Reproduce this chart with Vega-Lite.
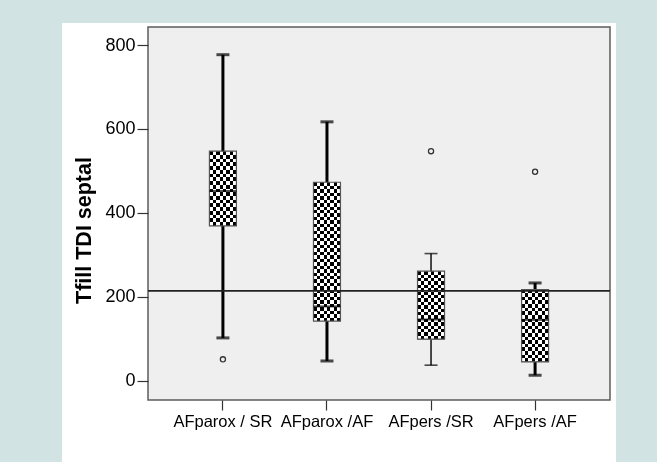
{
  "$schema": "https://vega.github.io/schema/vega-lite/v6.json",
  "width": 462,
  "height": 373,
  "autosize": {"type": "none"},
  "padding": {"left": 148, "top": 27, "right": 47, "bottom": 62},
  "background": "#d1e3e3",
  "config": {
    "font": "Liberation Sans",
    "view": {"stroke": null, "fill": null},
    "axis": {"grid": false, "domain": false, "labelFontSize": 16.5, "labelColor": "#000", "tickColor": "#333", "tickWidth": 1.2, "labelFont": "Liberation Sans", "titleFont": "Liberation Sans"}
  },
  "datasets": {
    "boxes": [
      {"group": "AFparox / SR", "lower": 102, "q1": 369, "median": 452, "q3": 547, "upper": 777},
      {"group": "AFparox /AF", "lower": 47, "q1": 142, "median": 177, "q3": 473, "upper": 617},
      {"group": "AFpers /SR", "lower": 37, "q1": 99, "median": 146, "q3": 261, "upper": 303},
      {"group": "AFpers /AF", "lower": 13, "q1": 45, "median": 145, "q3": 217, "upper": 233}
    ],
    "outliers": [
      {"group": "AFparox / SR", "value": 51},
      {"group": "AFpers /SR", "value": 547},
      {"group": "AFpers /AF", "value": 498}
    ],
    "ref": [{"value": 214}]
  },
  "encoding": {
    "x": {
      "field": "group", "type": "nominal",
      "sort": ["AFparox / SR", "AFparox /AF", "AFpers /SR", "AFpers /AF"],
      "scale": {"paddingInner": 0, "paddingOuter": 0.22},
      "axis": {"title": null, "labelAngle": 0, "tickSize": 10, "labelPadding": 3, "zindex": 1}
    }
  },
  "layer": [
    {
      "data": {"values": [{}]},
      "mark": {"type": "rect", "fill": "#ffffff"},
      "encoding": {"x": {"value": -86}, "x2": {"value": 468}, "y": {"value": -4}, "y2": {"value": 435}}
    },
    {
      "data": {"values": [{}]},
      "mark": {"type": "rect", "fill": "#efefef", "stroke": "#5c5c5c", "strokeWidth": 1.5},
      "encoding": {"x": {"value": 0}, "x2": {"value": "width"}, "y": {"value": 0}, "y2": {"value": "height"}}
    },
    {
      "data": {"name": "boxes"},
      "mark": {"type": "rule", "color": "#000"},
      "encoding": {
        "y": {
          "field": "lower", "type": "quantitative",
          "scale": {"domain": [-46, 843], "nice": false, "zero": false},
          "axis": {"values": [0, 200, 400, 600, 800], "tickSize": 11, "labelPadding": 2, "labelFontSize": 18, "title": "Tfill TDI septal", "titleFontSize": 21.5, "titleFontWeight": "bold", "titleColor": "#000", "titlePadding": 9, "titleY": 203, "zindex": 1}
        },
        "y2": {"field": "upper"},
        "strokeWidth": {"condition": {"test": "datum.group === 'AFpers /SR'", "value": 1.4}, "value": 3}
      }
    },
    {
      "data": {"name": "boxes"},
      "transform": [{"fold": ["lower", "upper"], "as": ["k", "v"]}, {"filter": "datum.group !== 'AFpers /SR'"}],
      "mark": {"type": "tick", "color": "#000", "size": 13, "thickness": 3},
      "encoding": {"y": {"field": "v", "type": "quantitative"}}
    },
    {
      "data": {"name": "boxes"},
      "transform": [{"fold": ["lower", "upper"], "as": ["k", "v"]}, {"filter": "datum.group === 'AFpers /SR'"}],
      "mark": {"type": "tick", "color": "#000", "size": 13, "thickness": 1.6},
      "encoding": {"y": {"field": "v", "type": "quantitative"}}
    },
    {
      "data": {"name": "boxes"},
      "mark": {"type": "bar", "width": 27, "stroke": null, "fill": {"gradient": "linear", "x1": 0, "y1": 0, "x2": 1, "y2": 0, "stops": [
        {"offset": 0, "color": "#000"}, {"offset": 0.125, "color": "#000"}, {"offset": 0.125, "color": "#fff"}, {"offset": 0.25, "color": "#fff"},
        {"offset": 0.25, "color": "#000"}, {"offset": 0.375, "color": "#000"}, {"offset": 0.375, "color": "#fff"}, {"offset": 0.5, "color": "#fff"},
        {"offset": 0.5, "color": "#000"}, {"offset": 0.625, "color": "#000"}, {"offset": 0.625, "color": "#fff"}, {"offset": 0.75, "color": "#fff"},
        {"offset": 0.75, "color": "#000"}, {"offset": 0.875, "color": "#000"}, {"offset": 0.875, "color": "#fff"}, {"offset": 1, "color": "#fff"}
      ]}},
      "encoding": {"y": {"field": "q1", "type": "quantitative"}, "y2": {"field": "q3"}}
    },
    {
      "data": {"name": "boxes"},
      "transform": [{"filter": "datum.group !== 'AFparox /AF'"}],
      "mark": {"type": "bar", "width": 27, "stroke": null, "blend": "difference", "fill": {"gradient": "linear", "x1": 0, "y1": 0, "x2": 0, "y2": 1, "stops": [
        {"offset": 0, "color": "#000"}, {"offset": 0.05, "color": "#000"}, {"offset": 0.05, "color": "#fff"}, {"offset": 0.1, "color": "#fff"},
        {"offset": 0.1, "color": "#000"}, {"offset": 0.15, "color": "#000"}, {"offset": 0.15, "color": "#fff"}, {"offset": 0.2, "color": "#fff"},
        {"offset": 0.2, "color": "#000"}, {"offset": 0.25, "color": "#000"}, {"offset": 0.25, "color": "#fff"}, {"offset": 0.3, "color": "#fff"},
        {"offset": 0.3, "color": "#000"}, {"offset": 0.35, "color": "#000"}, {"offset": 0.35, "color": "#fff"}, {"offset": 0.4, "color": "#fff"},
        {"offset": 0.4, "color": "#000"}, {"offset": 0.45, "color": "#000"}, {"offset": 0.45, "color": "#fff"}, {"offset": 0.5, "color": "#fff"},
        {"offset": 0.5, "color": "#000"}, {"offset": 0.55, "color": "#000"}, {"offset": 0.55, "color": "#fff"}, {"offset": 0.6, "color": "#fff"},
        {"offset": 0.6, "color": "#000"}, {"offset": 0.65, "color": "#000"}, {"offset": 0.65, "color": "#fff"}, {"offset": 0.7, "color": "#fff"},
        {"offset": 0.7, "color": "#000"}, {"offset": 0.75, "color": "#000"}, {"offset": 0.75, "color": "#fff"}, {"offset": 0.8, "color": "#fff"},
        {"offset": 0.8, "color": "#000"}, {"offset": 0.85, "color": "#000"}, {"offset": 0.85, "color": "#fff"}, {"offset": 0.9, "color": "#fff"},
        {"offset": 0.9, "color": "#000"}, {"offset": 0.95, "color": "#000"}, {"offset": 0.95, "color": "#fff"}, {"offset": 1, "color": "#fff"}
      ]}},
      "encoding": {"y": {"field": "q1", "type": "quantitative"}, "y2": {"field": "q3"}}
    },
    {
      "data": {"name": "boxes"},
      "transform": [{"filter": "datum.group === 'AFparox /AF'"}],
      "mark": {"type": "bar", "width": 27, "stroke": null, "blend": "difference", "fill": {"gradient": "linear", "x1": 0, "y1": 0, "x2": 0, "y2": 1, "stops": [
        {"offset": 0, "color": "#000"}, {"offset": 0.025, "color": "#000"}, {"offset": 0.025, "color": "#fff"}, {"offset": 0.05, "color": "#fff"},
        {"offset": 0.05, "color": "#000"}, {"offset": 0.075, "color": "#000"}, {"offset": 0.075, "color": "#fff"}, {"offset": 0.1, "color": "#fff"},
        {"offset": 0.1, "color": "#000"}, {"offset": 0.125, "color": "#000"}, {"offset": 0.125, "color": "#fff"}, {"offset": 0.15, "color": "#fff"},
        {"offset": 0.15, "color": "#000"}, {"offset": 0.175, "color": "#000"}, {"offset": 0.175, "color": "#fff"}, {"offset": 0.2, "color": "#fff"},
        {"offset": 0.2, "color": "#000"}, {"offset": 0.225, "color": "#000"}, {"offset": 0.225, "color": "#fff"}, {"offset": 0.25, "color": "#fff"},
        {"offset": 0.25, "color": "#000"}, {"offset": 0.275, "color": "#000"}, {"offset": 0.275, "color": "#fff"}, {"offset": 0.3, "color": "#fff"},
        {"offset": 0.3, "color": "#000"}, {"offset": 0.325, "color": "#000"}, {"offset": 0.325, "color": "#fff"}, {"offset": 0.35, "color": "#fff"},
        {"offset": 0.35, "color": "#000"}, {"offset": 0.375, "color": "#000"}, {"offset": 0.375, "color": "#fff"}, {"offset": 0.4, "color": "#fff"},
        {"offset": 0.4, "color": "#000"}, {"offset": 0.425, "color": "#000"}, {"offset": 0.425, "color": "#fff"}, {"offset": 0.45, "color": "#fff"},
        {"offset": 0.45, "color": "#000"}, {"offset": 0.475, "color": "#000"}, {"offset": 0.475, "color": "#fff"}, {"offset": 0.5, "color": "#fff"},
        {"offset": 0.5, "color": "#000"}, {"offset": 0.525, "color": "#000"}, {"offset": 0.525, "color": "#fff"}, {"offset": 0.55, "color": "#fff"},
        {"offset": 0.55, "color": "#000"}, {"offset": 0.575, "color": "#000"}, {"offset": 0.575, "color": "#fff"}, {"offset": 0.6, "color": "#fff"},
        {"offset": 0.6, "color": "#000"}, {"offset": 0.625, "color": "#000"}, {"offset": 0.625, "color": "#fff"}, {"offset": 0.65, "color": "#fff"},
        {"offset": 0.65, "color": "#000"}, {"offset": 0.675, "color": "#000"}, {"offset": 0.675, "color": "#fff"}, {"offset": 0.7, "color": "#fff"},
        {"offset": 0.7, "color": "#000"}, {"offset": 0.725, "color": "#000"}, {"offset": 0.725, "color": "#fff"}, {"offset": 0.75, "color": "#fff"},
        {"offset": 0.75, "color": "#000"}, {"offset": 0.775, "color": "#000"}, {"offset": 0.775, "color": "#fff"}, {"offset": 0.8, "color": "#fff"},
        {"offset": 0.8, "color": "#000"}, {"offset": 0.825, "color": "#000"}, {"offset": 0.825, "color": "#fff"}, {"offset": 0.85, "color": "#fff"},
        {"offset": 0.85, "color": "#000"}, {"offset": 0.875, "color": "#000"}, {"offset": 0.875, "color": "#fff"}, {"offset": 0.9, "color": "#fff"},
        {"offset": 0.9, "color": "#000"}, {"offset": 0.925, "color": "#000"}, {"offset": 0.925, "color": "#fff"}, {"offset": 0.95, "color": "#fff"},
        {"offset": 0.95, "color": "#000"}, {"offset": 0.975, "color": "#000"}, {"offset": 0.975, "color": "#fff"}, {"offset": 1, "color": "#fff"}
      ]}},
      "encoding": {"y": {"field": "q1", "type": "quantitative"}, "y2": {"field": "q3"}}
    },
    {
      "data": {"name": "boxes"},
      "mark": {"type": "bar", "width": 27, "fill": "transparent", "stroke": "#555", "strokeWidth": 1.2},
      "encoding": {"y": {"field": "q1", "type": "quantitative"}, "y2": {"field": "q3"}}
    },
    {
      "data": {"name": "boxes"},
      "mark": {"type": "tick", "color": "#000", "size": 27, "thickness": 2},
      "encoding": {"y": {"field": "median", "type": "quantitative"}}
    },
    {
      "data": {"name": "outliers"},
      "mark": {"type": "point", "shape": "circle", "filled": false, "stroke": "#333", "strokeWidth": 1.3, "size": 26, "opacity": 1},
      "encoding": {"y": {"field": "value", "type": "quantitative"}}
    },
    {
      "data": {"name": "ref"},
      "mark": {"type": "rule", "color": "#222", "strokeWidth": 1.8},
      "encoding": {"x": {"value": 0}, "x2": {"value": "width"}, "y": {"field": "value", "type": "quantitative"}}
    }
  ]
}
